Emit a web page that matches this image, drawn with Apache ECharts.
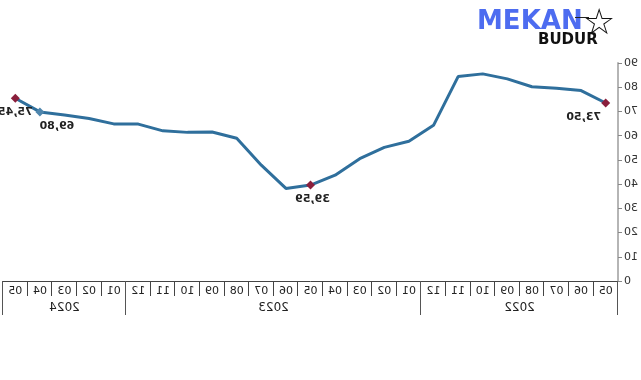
<!DOCTYPE html>
<html>
<head>
<meta charset="utf-8">
<script src="https://cdn.jsdelivr.net/npm/echarts/dist/echarts.min.js"></script>
<style>
html,body{margin:0;padding:0;background:#fff;}
#wrap{position:relative;width:641px;height:380px;overflow:hidden;background:#fff;}
#chart{position:absolute;left:0;top:0;width:641px;height:380px;transform:scaleX(-1);}
.lg{position:absolute;white-space:nowrap;line-height:1;}
</style>
</head>
<body>
<div id="wrap">
  <div id="chart"></div>
  <div class="lg" style="left:477px;top:5px;font:bold 26px 'DejaVu Sans';color:#4d6cf0;letter-spacing:0px;">MEKAN</div>
  <div class="lg" style="left:575px;top:17px;width:14px;height:1px;background:#222;"></div>
  <div class="lg" style="left:583px;top:1px;font:36px 'DejaVu Sans';color:#111;">☆</div>
  <div class="lg" style="left:538px;top:30px;font:bold 15px 'DejaVu Sans';color:#111;">BUDUR</div>
</div>
<script>
// Data (original orientation: 2022-05 ... 2024-05); the picture is a horizontal mirror
const months = ['05','06','07','08','09','10','11','12',
                '01','02','03','04','05','06','07','08','09','10','11','12',
                '01','02','03','04','05'];
const years = ['2022','2023','2024'];
const yearSpans = [8, 12, 5];
const values = [73.50, 78.62, 79.60, 80.21, 83.45, 85.51, 84.39, 64.27,
                57.68, 55.18, 50.51, 43.68, 39.59, 38.21, 47.83, 58.94, 61.53, 61.36, 61.98, 64.77,
                64.86, 67.07, 68.50, 69.80, 75.45];
const yTicks = [0,10,20,30,40,50,60,70,80,90];
const labeledPoints = [0, 12, 23, 24];

// label placement / marker styling (kept apart from data)
const labelOffsets = {0:[22,0], 12:[-2,0], 23:[-17,0], 24:[0,0]};
const markerColors = {0:'#8a1f3c', 12:'#8a1f3c', 23:'#4f86ad', 24:'#8a1f3c'};

// half-month slots for the year axis
const nHalf = months.length * 2;
const yearSlots = new Array(nHalf + 1).fill('');
const yearBounds = [0];
let acc = 0;
years.forEach((y, i) => {
  yearSlots[acc * 2 + yearSpans[i]] = y;
  acc += yearSpans[i];
  yearBounds.push(acc * 2);
});

const seriesData = values.map((v, i) => {
  if (labeledPoints.indexOf(i) < 0) return {value: v};
  return {
    value: v,
    symbol: 'diamond',
    symbolSize: 9,
    itemStyle: {color: markerColors[i]},
    label: {
      show: true,
      position: 'bottom',
      offset: labelOffsets[i],
      distance: 4,
      formatter: p => p.value.toFixed(2).replace('.', ','),
      fontFamily: 'DejaVu Sans',
      fontSize: 11,
      fontWeight: 'bold',
      color: '#222'
    }
  };
});

const chart = echarts.init(document.getElementById('chart'));
chart.setOption({
  animation: false,
  backgroundColor: '#fff',
  grid: {left: 19, right: 3, top: 63, bottom: 99, containLabel: false},
  xAxis: [
    {
      type: 'category',
      data: months,
      boundaryGap: true,
      axisLine: {show: true, lineStyle: {color: '#444', width: 1}},
      axisTick: {show: true, interval: 0, length: 15, lineStyle: {color: '#444'}},
      axisLabel: {interval: 0, margin: 5, fontSize: 11, color: '#222', fontFamily: 'DejaVu Sans'}
    },
    {
      type: 'category',
      data: yearSlots,
      boundaryGap: false,
      position: 'bottom',
      axisLine: {show: false},
      axisTick: {show: true, length: 34, interval: (i) => yearBounds.indexOf(i) >= 0, lineStyle: {color: '#555'}},
      axisLabel: {interval: (i, v) => v !== '', margin: 21, fontSize: 12, color: '#222', fontFamily: 'DejaVu Sans'}
    }
  ],
  yAxis: {
    type: 'value',
    min: yTicks[0],
    max: yTicks[yTicks.length - 1],
    interval: 10,
    position: 'left',
    axisLine: {show: true, lineStyle: {color: '#b5b5b5', width: 2}},
    axisTick: {show: true, length: 4, lineStyle: {color: '#888'}},
    splitLine: {show: false},
    axisLabel: {margin: 6, fontSize: 11, color: '#333', fontFamily: 'DejaVu Sans'}
  },
  series: [{
    type: 'line',
    xAxisIndex: 0,
    data: seriesData,
    symbol: 'none',
    showSymbol: true,
    lineStyle: {color: '#2f6f9c', width: 3},
    itemStyle: {color: '#2f6f9c'},
    z: 3
  }]
});
</script>
</body>
</html>
